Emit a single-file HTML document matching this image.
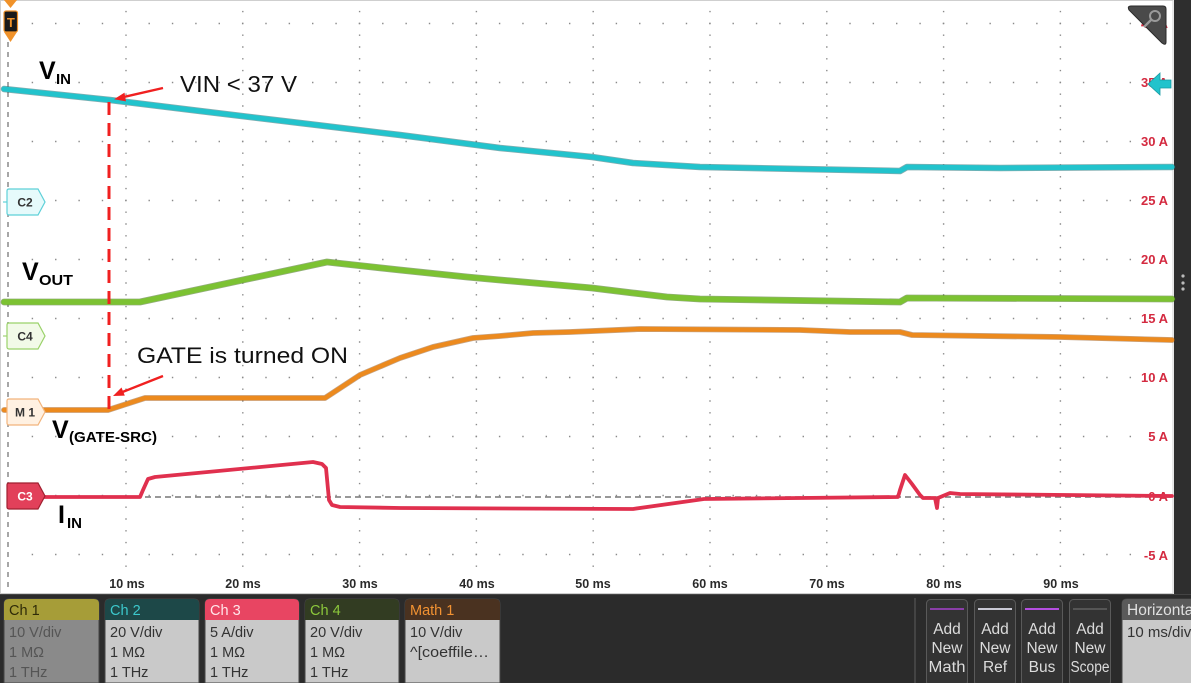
<!DOCTYPE html>
<html><head><meta charset="utf-8"><style>
html,body{margin:0;padding:0;background:#2b2b2b;}
svg{display:block;}
text{font-family:"Liberation Sans",sans-serif;}
</style></head><body>
<svg width="1191" height="683" viewBox="0 0 1191 683" xmlns="http://www.w3.org/2000/svg">
<rect x="0" y="0" width="1191" height="683" fill="#2b2b2b"/>
<rect x="0" y="0" width="1174" height="594" fill="#ffffff"/>
<rect x="0.5" y="0.5" width="1172.5" height="593" fill="none" stroke="#cfcfcf" stroke-width="1"/>
<rect x="1174" y="0" width="17" height="594" fill="#2e2e2e"/>
<circle cx="1183" cy="276" r="1.6" fill="#bbb"/>
<circle cx="1183" cy="283" r="1.6" fill="#bbb"/>
<circle cx="1183" cy="289" r="1.6" fill="#bbb"/>

<g stroke="#8a8a8a" stroke-width="1.4" stroke-dasharray="1.4 10.4">
<line x1="126" y1="10.9" x2="126" y2="575"/>
<line x1="242.8" y1="10.9" x2="242.8" y2="575"/>
<line x1="359.6" y1="10.9" x2="359.6" y2="575"/>
<line x1="476.4" y1="10.9" x2="476.4" y2="575"/>
<line x1="593.2" y1="10.9" x2="593.2" y2="575"/>
<line x1="710" y1="10.9" x2="710" y2="575"/>
<line x1="826.8" y1="10.9" x2="826.8" y2="575"/>
<line x1="943.6" y1="10.9" x2="943.6" y2="575"/>
<line x1="1060.4" y1="10.9" x2="1060.4" y2="575"/>
</g>
<g stroke="#8a8a8a" stroke-width="1.4" stroke-dasharray="1.4 21.96">
<line x1="31.7" y1="23.5" x2="1172" y2="23.5"/>
<line x1="31.7" y1="82.5" x2="1172" y2="82.5"/>
<line x1="31.7" y1="141.5" x2="1172" y2="141.5"/>
<line x1="31.7" y1="200.5" x2="1172" y2="200.5"/>
<line x1="31.7" y1="259.5" x2="1172" y2="259.5"/>
<line x1="31.7" y1="318.5" x2="1172" y2="318.5"/>
<line x1="31.7" y1="377.5" x2="1172" y2="377.5"/>
<line x1="31.7" y1="436.5" x2="1172" y2="436.5"/>
<line x1="31.7" y1="495.5" x2="1172" y2="495.5"/>
<line x1="31.7" y1="554.5" x2="1172" y2="554.5"/>
</g>
<line x1="8" y1="42" x2="8" y2="592" stroke="#8a8a8a" stroke-width="1.5" stroke-dasharray="5 5"/>
<line x1="45" y1="497" x2="1172" y2="497" stroke="#777" stroke-width="1.4" stroke-dasharray="6 4"/>

<g font-size="12.5" font-weight="bold" fill="#2a2a2a" text-anchor="middle">
<text x="127" y="588">10 ms</text>
<text x="243" y="588">20 ms</text>
<text x="360" y="588">30 ms</text>
<text x="477" y="588">40 ms</text>
<text x="593" y="588">50 ms</text>
<text x="710" y="588">60 ms</text>
<text x="827" y="588">70 ms</text>
<text x="944" y="588">80 ms</text>
<text x="1061" y="588">90 ms</text>
</g>
<g font-size="13" font-weight="bold" fill="#d42a40" text-anchor="end">
<text x="1168" y="28">40 A</text>
<text x="1168" y="87">35 A</text>
<text x="1168" y="146">30 A</text>
<text x="1168" y="205">25 A</text>
<text x="1168" y="264">20 A</text>
<text x="1168" y="323">15 A</text>
<text x="1168" y="382">10 A</text>
<text x="1168" y="441">5 A</text>
<text x="1168" y="501">0 A</text>
<text x="1168" y="560">-5 A</text>
</g>

<g fill="none" stroke-linejoin="round" stroke-linecap="round">
<polyline stroke="#1a6a70" stroke-width="6.5" opacity="0.55" points="4,89 110,100 200,111 300,123 400,135 500,148 592,157 633,163 700,167 800,169 900,171 907,167 1000,168 1172,167"/>
<polyline stroke="#22c3cc" stroke-width="5" points="4,89 110,100 200,111 300,123 400,135 500,148 592,157 633,163 700,167 800,169 900,171 907,167 1000,168 1172,167"/>
<polyline stroke="#3a6a10" stroke-width="6.8" opacity="0.55" points="4,302 140,302 327,262 400,270 467,277 500,280 592,288 633,293 667,297 700,299 900,302 907,298 1172,299"/>
<polyline stroke="#7cc232" stroke-width="5.4" points="4,302 140,302 327,262 400,270 467,277 500,280 592,288 633,293 667,297 700,299 900,302 907,298 1172,299"/>
<polyline stroke="#8a4a10" stroke-width="5.8" opacity="0.5" points="4,410 108,410 145,398 325,398 360,375 400,358 433,347 473,338 500,336 533,333 570,332 640,329 800,330 850,332 900,332 912,335 1060,337 1172,340"/>
<polyline stroke="#ec8a1e" stroke-width="4.4" points="4,410 108,410 145,398 325,398 360,375 400,358 433,347 473,338 500,336 533,333 570,332 640,329 800,330 850,332 900,332 912,335 1060,337 1172,340"/>
<polyline stroke="#e0304e" stroke-width="3.8" points="10,497 140,497 143,490 148,479 155,477 313,462 322,464 326,468 329,500 332,505 340,507 400,508 633,509 704,499 800,498 898,497 900,490 905,475 912,484 920,495 923,498 935,498 937,508 938,498 950,493 960,494 1172,496"/>
</g>

<g font-size="12" font-weight="bold" text-anchor="middle">
<line x1="3" y1="202" x2="18" y2="202" stroke="#40c8d0" stroke-width="1"/>
<path d="M9,189 H38 L45,202 L38,215 H9 Q7,215 7,213 V191 Q7,189 9,189 Z" fill="#e6fafb" stroke="#5ed0d8" stroke-width="1.2"/>
<text x="25" y="206.5" fill="#333">C2</text>
<line x1="3" y1="336" x2="18" y2="336" stroke="#8cc85a" stroke-width="1"/>
<path d="M9,323 H38 L45,336 L38,349 H9 Q7,349 7,347 V325 Q7,323 9,323 Z" fill="#f2fae8" stroke="#9ad26a" stroke-width="1.2"/>
<text x="25" y="340.5" fill="#333">C4</text>
<path d="M9,399 H38 L45,412 L38,425 H9 Q7,425 7,423 V401 Q7,399 9,399 Z" fill="#fff1e2" stroke="#f2b47c" stroke-width="1.2"/>
<text x="25" y="416.5" fill="#333">M 1</text>
<path d="M9,483 H38 L45,496 L38,509 H9 Q7,509 7,507 V485 Q7,483 9,483 Z" fill="#e2405a" stroke="#a02030" stroke-width="1.2"/>
<text x="25" y="500.5" fill="#fff">C3</text>
</g>
<path d="M4,0 H17 L10.5,8 Z" fill="#f0922a"/>
<rect x="4" y="11" width="13.5" height="21" rx="2" fill="#1a1a1a" stroke="#f0922a" stroke-width="1.2"/>
<text x="10.8" y="27" font-size="13" font-weight="bold" fill="#f0922a" text-anchor="middle">T</text>
<path d="M4,32 H17 L10.5,42 Z" fill="#f0922a"/>

<path d="M1148,84 L1160,73 L1160,80 L1171,80 L1171,88 L1160,88 L1160,95 Z" fill="#22c3cc" stroke="#189aa2" stroke-width="0.8"/>
<path d="M1131,6 H1163 Q1166,6 1166,9 V42 Q1166,46 1162,43 L1129,10 Q1127,6 1131,6 Z" fill="#4a4a4a" stroke="#2a2a2a" stroke-width="1"/>
<circle cx="1155" cy="16" r="5" fill="none" stroke="#9a9a9a" stroke-width="2"/>
<line x1="1151" y1="20" x2="1144" y2="27" stroke="#9a9a9a" stroke-width="2.4"/>

<line x1="109" y1="102" x2="109" y2="410" stroke="#f02020" stroke-width="3" stroke-dasharray="13 8"/>
<line x1="163" y1="88" x2="121" y2="97.6" stroke="#f02020" stroke-width="2.4"/>
<path d="M114,99.2 L124.5,92.6 L126,101.4 Z" fill="#f02020"/>
<line x1="163" y1="376" x2="120" y2="393" stroke="#f02020" stroke-width="2.4"/>
<path d="M113,396 L121.5,387.5 L124.8,395.6 Z" fill="#f02020"/>

<text x="180" y="92" font-size="23" fill="#111" textLength="117" lengthAdjust="spacingAndGlyphs">VIN &lt; 37 V</text>
<text x="137" y="363" font-size="22" fill="#111" textLength="211" lengthAdjust="spacingAndGlyphs">GATE is turned ON</text>

<g font-weight="bold" fill="#000">
<text x="39" y="79" font-size="25">V</text>
<text x="56" y="84" font-size="15">IN</text>
<text x="22" y="280" font-size="25">V</text>
<text x="39" y="285" font-size="15" textLength="34" lengthAdjust="spacingAndGlyphs">OUT</text>
<text x="52" y="438" font-size="25">V</text>
<text x="69" y="442" font-size="15" textLength="88" lengthAdjust="spacingAndGlyphs">(GATE-SRC)</text>
<text x="58" y="523" font-size="25">I</text>
<text x="67" y="528" font-size="15">IN</text>
</g>

<line x1="0" y1="594.5" x2="1191" y2="594.5" stroke="#444" stroke-width="1"/>
<g font-size="14.5">
<path d="M4,604 Q4,599 9,599 H94 Q99,599 99,604 V683 H4 Z" fill="#8a8a8a" stroke="#444" stroke-width="1"/>
<path d="M4,604 Q4,599 9,599 H94 Q99,599 99,604 V620 H4 Z" fill="#a69d38"/>
<text x="9" y="615" fill="#2f2b08">Ch 1</text>
<text x="9" y="637" fill="#555">10 V/div</text>
<text x="9" y="657" fill="#555">1 MΩ</text>
<text x="9" y="677" fill="#555">1 THz</text>
<path d="M105,604 Q105,599 110,599 H194 Q199,599 199,604 V683 H105 Z" fill="#c9c9c9" stroke="#444" stroke-width="1"/>
<path d="M105,604 Q105,599 110,599 H194 Q199,599 199,604 V620 H105 Z" fill="#1d4848"/>
<text x="110" y="615" fill="#3cc8cc">Ch 2</text>
<text x="110" y="637" fill="#333">20 V/div</text>
<text x="110" y="657" fill="#333">1 MΩ</text>
<text x="110" y="677" fill="#333">1 THz</text>
<path d="M205,604 Q205,599 210,599 H294 Q299,599 299,604 V683 H205 Z" fill="#c9c9c9" stroke="#444" stroke-width="1"/>
<path d="M205,604 Q205,599 210,599 H294 Q299,599 299,604 V620 H205 Z" fill="#e84562"/>
<text x="210" y="615" fill="#ffe6ea">Ch 3</text>
<text x="210" y="637" fill="#333">5 A/div</text>
<text x="210" y="657" fill="#333">1 MΩ</text>
<text x="210" y="677" fill="#333">1 THz</text>
<path d="M305,604 Q305,599 310,599 H394 Q399,599 399,604 V683 H305 Z" fill="#c9c9c9" stroke="#444" stroke-width="1"/>
<path d="M305,604 Q305,599 310,599 H394 Q399,599 399,604 V620 H305 Z" fill="#323c22"/>
<text x="310" y="615" fill="#8cc83c">Ch 4</text>
<text x="310" y="637" fill="#333">20 V/div</text>
<text x="310" y="657" fill="#333">1 MΩ</text>
<text x="310" y="677" fill="#333">1 THz</text>
<path d="M405,604 Q405,599 410,599 H495 Q500,599 500,604 V683 H405 Z" fill="#c9c9c9" stroke="#444" stroke-width="1"/>
<path d="M405,604 Q405,599 410,599 H495 Q500,599 500,604 V620 H405 Z" fill="#4a3220"/>
<text x="410" y="615" fill="#f29232">Math 1</text>
<text x="410" y="637" fill="#333">10 V/div</text>
<text x="410" y="657" fill="#333" textLength="79" lengthAdjust="spacingAndGlyphs">^[coeffile…</text>
</g>

<line x1="915" y1="598" x2="915" y2="683" stroke="#555" stroke-width="1.2"/>
<g font-size="15.5" fill="#dcdcdc" text-anchor="middle">
<rect x="926.5" y="599.5" width="41" height="86" rx="4" fill="#333" stroke="#5a5a5a"/>
<line x1="930" y1="609" x2="964" y2="609" stroke="#8a3ea8" stroke-width="2"/>
<text x="947" y="634">Add</text><text x="947" y="653">New</text><text x="947" y="672" textLength="37" lengthAdjust="spacingAndGlyphs">Math</text>
<rect x="974.5" y="599.5" width="41" height="86" rx="4" fill="#333" stroke="#5a5a5a"/>
<line x1="978" y1="609" x2="1012" y2="609" stroke="#c8c8d4" stroke-width="2"/>
<text x="995" y="634">Add</text><text x="995" y="653">New</text><text x="995" y="672">Ref</text>
<rect x="1021.5" y="599.5" width="41" height="86" rx="4" fill="#333" stroke="#5a5a5a"/>
<line x1="1025" y1="609" x2="1059" y2="609" stroke="#b44ee0" stroke-width="2"/>
<text x="1042" y="634">Add</text><text x="1042" y="653">New</text><text x="1042" y="672">Bus</text>
<rect x="1069.5" y="599.5" width="41" height="86" rx="4" fill="#333" stroke="#5a5a5a"/>
<line x1="1073" y1="609" x2="1107" y2="609" stroke="#555" stroke-width="2"/>
<text x="1090" y="634">Add</text><text x="1090" y="653">New</text><text x="1090" y="672" textLength="39" lengthAdjust="spacingAndGlyphs">Scope</text>
</g>
<path d="M1122,604 Q1122,599 1127,599 H1195 V690 H1122 Z" fill="#c9c9c9" stroke="#444" stroke-width="1"/>
<path d="M1122,604 Q1122,599 1127,599 H1195 V620 H1122 Z" fill="#5a5a5a"/>
<text x="1127" y="615" font-size="15.5" fill="#e0e0e0">Horizontal</text>
<text x="1127" y="637" font-size="15" fill="#333">10 ms/div</text>
</svg>
</body></html>
